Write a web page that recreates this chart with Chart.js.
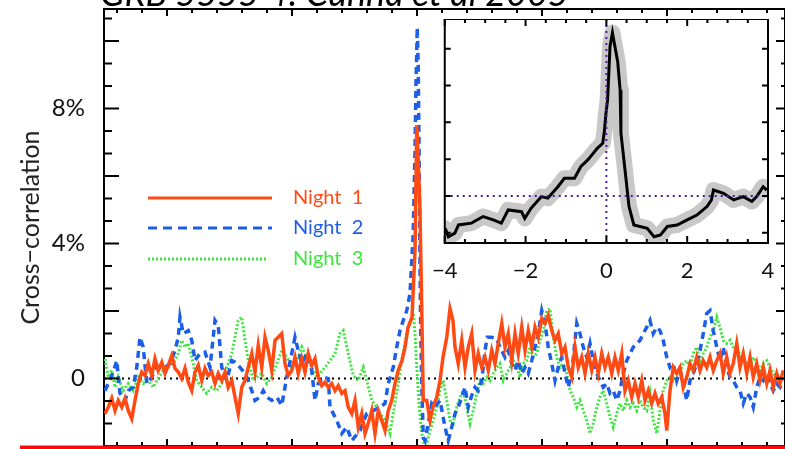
<!DOCTYPE html>
<html>
<head>
<meta charset="utf-8">
<script src="https://cdn.jsdelivr.net/npm/chart.js@4.4.1/dist/chart.umd.min.js"></script>
<style>
  html, body { margin: 0; padding: 0; background: #fff; }
  #wrap { position: relative; width: 785px; height: 449px; overflow: hidden; }
  #mainChart { position: absolute; left: 0; top: 0; }
  #insetChart { position: absolute; left: 425px; top: 19px; }
</style>
</head>
<body>
<div id="wrap">
  <canvas id="mainChart" width="785" height="449"></canvas>
  <canvas id="insetChart" width="360" height="270"></canvas>
</div>
<script>
// lag (main axis units) and cross-correlation (%) per night
const lag1 = [-2.496,-2.470,-2.442,-2.416,-2.390,-2.362,-2.336,-2.310,-2.282,-2.256,-2.230,-2.202,-2.176,-2.150,-2.122,-2.096,-2.070,-2.042,-2.016,-1.990,-1.962,-1.936,-1.910,-1.882,-1.856,-1.830,-1.802,-1.776,-1.750,-1.722,-1.696,-1.670,-1.642,-1.616,-1.590,-1.562,-1.536,-1.510,-1.482,-1.456,-1.430,-1.402,-1.376,-1.350,-1.322,-1.296,-1.270,-1.242,-1.216,-1.190,-1.162,-1.136,-1.110,-1.082,-1.056,-1.030,-1.002,-0.976,-0.950,
  -0.922,-0.896,-0.870,-0.842,-0.816,-0.790,-0.762,-0.736,-0.710,-0.682,-0.656,-0.630,-0.602,-0.576,-0.550,-0.522,-0.496,-0.470,-0.442,-0.416,-0.390,-0.362,-0.336,-0.310,-0.282,-0.256,-0.230,-0.202,-0.176,-0.150,
  -0.120,-0.096,-0.072,-0.040,-0.016,-0.002,0.010,0.024,0.038,0.050,0.078,0.104,0.128,0.158,0.184,0.208,0.238,0.264,0.288,0.304,
  0.330,0.358,0.384,0.410,0.438,0.464,0.490,0.518,0.544,0.570,0.598,0.624,0.650,0.678,0.704,0.730,0.758,0.784,0.810,0.838,0.864,0.890,0.918,0.944,0.970,0.998,1.024,1.050,1.078,1.104,1.130,1.158,1.184,1.210,1.238,1.264,1.290,1.318,1.344,1.370,1.398,1.424,1.450,1.478,1.504,1.530,1.558,1.584,1.610,1.638,1.664,1.690,1.718,1.744,1.770,1.798,1.824,1.850,1.878,1.904,1.930,1.958,1.984,1.998,2.024,2.050,2.078,2.104,2.130,2.158,2.184,2.210,2.238,2.264,2.290,2.318,2.344,2.370,2.398,2.424,2.450,2.478,2.504,2.530,2.558,2.584,2.610,2.638,2.664,2.690,2.718,2.744,2.770,2.798,2.824,2.850,2.878,2.904,2.930];
const night1 = [-1.04,-0.85,-0.59,-0.95,-0.65,-0.85,-0.59,-0.95,-1.19,-0.65,-0.15,0.19,0.09,0.44,0.09,0.59,0.24,0.48,0.15,0.39,0.68,0.30,0.19,0.00,0.30,-0.11,-0.36,0.19,0.39,-0.06,0.30,0.09,0.19,-0.15,0.15,-0.06,0.19,-0.26,-0.06,-0.55,-1.04,-0.26,-0.06,0.33,0.74,0.19,0.98,0.33,1.22,0.83,0.24,1.13,1.22,1.33,0.44,0.09,0.24,0.63,0.15,
  0.59,0.19,0.74,0.39,0.59,0.04,-0.21,-0.11,-0.26,-0.15,-0.36,-0.21,-0.44,-0.36,-0.85,-1.04,-0.65,-1.44,-1.04,-1.63,-1.33,-0.95,-1.63,-0.95,-1.24,-1.54,-0.95,-0.65,-0.15,0.24,
  0.53,0.92,1.51,1.81,3.79,7.50,6.46,4.98,2.01,-0.65,-0.65,-1.24,-0.85,-0.55,-0.06,0.63,1.22,2.07,1.72,0.93,
  0.44,1.13,0.33,0.93,1.33,0.24,0.74,0.33,0.63,0.24,0.83,0.44,1.04,1.63,0.93,1.33,0.53,1.33,0.74,1.52,0.83,1.42,0.93,1.52,1.22,1.78,1.63,1.87,1.42,1.13,1.33,0.74,0.93,0.33,0.04,0.93,0.33,0.63,0.15,0.74,0.24,0.63,0.15,0.74,0.33,0.63,0.15,0.63,0.24,0.74,-0.36,-0.06,-0.55,-0.15,-0.55,-0.06,-0.65,-0.36,-0.74,-0.44,-0.74,-0.55,-1.04,-1.54,-0.36,0.33,0.15,0.33,-0.26,0.04,0.44,0.24,0.63,0.24,0.53,0.33,0.63,0.24,0.53,0.74,0.15,0.63,0.15,0.44,1.04,0.33,0.74,0.15,0.63,0.04,0.44,-0.06,0.33,-0.15,0.24,-0.26,0.15,-0.15,0.24];

const lag2 = [-2.496,-2.470,-2.430,-2.402,-2.376,-2.336,-2.310,-2.270,-2.242,-2.216,-2.190,-2.162,-2.122,-2.082,-2.030,-1.976,-1.936,-1.910,-1.896,-1.870,-1.830,-1.802,-1.776,-1.736,-1.696,-1.656,-1.616,-1.590,-1.562,-1.522,-1.482,-1.456,-1.416,-1.376,-1.350,-1.322,-1.296,-1.256,-1.230,-1.202,-1.162,-1.122,-1.082,-1.042,-1.002,-0.976,-0.950,-0.922,-0.882,-0.842,-0.816,-0.790,-0.750,-0.710,
  -0.696,-0.642,-0.602,-0.562,-0.522,-0.456,-0.402,-0.350,-0.296,-0.256,-0.230,-0.190,-0.162,-0.136,-0.110,-0.082,-0.056,-0.030,-0.016,-0.008,0.002,0.010,0.018,0.024,0.030,0.038,
  0.050,0.064,0.090,0.118,0.144,0.184,0.224,0.250,0.278,0.304,0.330,0.358,0.384,0.410,0.438,0.464,0.490,0.518,0.544,0.562,0.598,0.638,0.664,0.704,0.730,0.758,0.784,0.810,0.838,0.864,0.890,0.918,0.944,0.970,0.998,1.024,1.050,1.078,1.104,1.130,1.158,1.184,1.210,1.238,1.264,1.278,1.304,1.330,1.358,1.384,1.410,1.438,1.464,1.490,1.518,1.544,1.570,1.598,1.624,1.650,1.678,1.704,1.730,1.758,1.784,1.810,1.838,1.864,1.890,1.918,1.944,1.970,1.998,2.024,2.050,2.078,2.104,2.130,2.158,2.184,2.210,2.238,2.264,2.290,2.318,2.344,2.370,2.398,2.424,2.450,2.478,2.504,2.530,2.558,2.584,2.610,2.638,2.664,2.690,2.718,2.744,2.770,2.798,2.824,2.850,2.878,2.904,2.930];
const night2 = [-0.36,-0.15,0.19,0.53,-0.44,-0.65,-0.36,-0.26,0.33,1.22,0.93,-0.15,0.04,0.33,0.29,0.44,0.83,1.22,1.82,1.33,1.42,1.13,0.53,0.74,0.78,0.33,1.72,1.57,0.33,-0.06,0.53,0.48,0.33,0.15,-0.06,-0.36,-0.65,-0.55,-0.36,-0.55,-0.65,-0.55,-0.80,0.04,0.74,1.22,0.83,0.44,0.74,0.24,-0.65,-0.15,0.04,0.00,
  -0.85,-1.24,-1.63,-1.44,-1.84,-1.54,-1.04,-0.95,-0.85,-0.74,-0.15,0.33,0.93,1.42,1.72,2.01,2.52,4.30,6.76,8.74,10.40,9.21,6.25,3.29,1.33,-0.15,
  -1.74,-1.84,-1.33,-0.74,-0.85,-0.65,-1.44,-1.84,-1.44,-1.04,-0.85,-0.55,-0.26,-0.85,-0.50,-0.26,-0.36,-0.06,0.83,1.22,1.22,1.18,0.93,0.63,0.83,0.44,0.24,0.53,0.15,0.33,0.15,0.53,0.93,1.33,2.01,1.63,0.93,0.44,-0.06,0.33,0.63,0.15,-0.26,0.15,1.13,1.63,1.33,0.93,0.63,1.04,0.53,0.15,-0.06,-0.26,-0.15,-0.44,-0.36,-0.65,-0.36,0.15,0.53,0.74,0.93,1.04,1.13,1.33,1.52,1.72,1.33,1.52,1.42,1.13,0.63,0.33,0.44,-0.06,0.24,-0.15,-0.65,-0.06,0.15,0.44,0.83,1.33,1.93,2.01,1.42,0.93,0.53,0.93,0.33,0.04,-0.06,-0.26,-0.36,-0.74,-0.44,-0.55,-0.85,-0.26,0.04,-0.06,0.15,-0.15,-0.36,-0.15,-0.26,-0.06];

const lag3 = [-2.496,-2.470,-2.442,-2.416,-2.390,-2.350,-2.310,-2.270,-2.230,-2.190,-2.150,-2.110,-2.082,-2.030,-1.990,-1.950,-1.910,-1.882,-1.856,-1.830,-1.802,-1.762,-1.722,-1.682,-1.642,-1.602,-1.562,-1.522,-1.482,-1.456,-1.430,-1.402,-1.376,-1.350,-1.310,-1.282,-1.242,-1.202,-1.162,-1.122,-1.082,-1.042,-1.002,-0.962,-0.922,-0.882,-0.842,-0.802,-0.776,-0.736,-0.696,-0.656,-0.616,-0.590,-0.550,-0.510,-0.470,
  -0.430,-0.402,-0.362,-0.322,-0.296,-0.256,-0.216,-0.190,-0.150,-0.122,-0.082,-0.056,-0.030,-0.016,-0.002,0.018,0.038,0.064,0.078,0.104,0.130,0.158,0.184,0.210,0.238,0.264,0.290,0.318,0.344,0.370,0.398,0.424,0.450,0.478,0.504,0.530,0.558,0.584,0.610,0.638,0.664,0.690,0.718,0.744,0.770,0.798,0.824,0.850,0.878,0.904,0.930,0.958,0.984,1.010,1.038,1.064,1.090,1.118,1.144,1.170,1.198,1.224,1.250,1.278,1.304,1.330,1.358,1.384,1.410,1.438,1.464,1.490,1.518,1.544,1.570,1.598,1.624,1.650,1.678,1.704,1.730,1.758,1.784,1.810,1.838,1.864,1.890,1.918,1.944,1.970,1.998,2.024,2.050,2.078,2.104,2.130,2.158,2.184,2.210,2.238,2.264,2.290,2.318,2.344,2.370,2.398,2.424,2.450,2.478,2.504,2.530,2.558,2.584,2.610,2.638,2.664,2.690,2.718,2.744,2.770,2.798,2.824,2.850,2.878,2.904,2.930];
const night3 = [0.58,0.04,0.24,-0.26,0.04,-0.36,-0.15,-0.36,0.04,-0.15,-0.06,-0.26,-0.06,0.24,0.33,0.44,0.74,1.13,0.93,1.04,0.63,-0.06,-0.26,-0.44,-0.26,-0.36,-0.15,0.33,0.74,1.22,1.72,1.82,1.13,0.53,-0.06,0.04,0.15,-0.15,0.04,0.44,0.83,0.63,0.33,0.53,0.93,0.63,0.33,0.04,0.15,0.33,0.53,0.74,1.33,1.42,0.74,0.09,-0.06,
  0.33,-0.06,-0.65,-0.85,-1.04,-1.24,-1.63,-1.04,-0.15,0.53,1.33,1.72,1.93,1.33,0.33,-0.86,-1.63,-2.05,-1.93,-1.54,-1.24,-0.85,-0.36,-0.06,-0.65,-1.24,-1.33,-0.85,-0.55,-0.36,-0.85,-1.33,-0.95,-0.44,-0.06,-0.15,0.04,-0.06,0.15,0.33,0.44,-0.06,0.15,0.33,0.53,0.33,0.04,0.44,0.53,0.93,0.63,0.74,1.13,1.42,2.01,2.07,1.22,0.63,0.33,0.44,0.15,-0.36,-0.55,-0.85,-0.65,-0.95,-1.24,-1.63,-1.33,-0.85,-0.55,-0.36,-0.74,-1.15,-1.44,-1.04,-0.74,-0.95,-0.65,-0.85,-0.74,-0.95,-0.65,-0.85,-0.95,-0.44,-1.24,-1.63,-0.95,-0.36,-0.06,0.04,-0.06,0.15,0.24,0.44,0.53,0.33,0.74,0.93,0.53,0.74,0.93,1.22,1.42,1.82,1.52,1.13,1.04,1.13,0.93,0.83,0.74,0.53,0.44,0.33,0.63,0.44,0.24,0.44,0.53,0.33,0.15,0.04,-0.06,0.04];

// inset: averaged cross-correlation
const insetLag = [-3.99,-3.91,-3.75,-3.66,-3.34,-3.05,-2.80,-2.60,-2.43,-2.10,-2.02,-1.86,-1.61,-1.45,-1.20,-1.04,-0.79,-0.63,-0.46,-0.22,-0.09,-0.05,-0.01,0.03,0.09,0.15,0.19,0.28,0.34,0.36,0.48,0.56,0.68,1.01,1.18,1.34,1.51,1.75,2.00,2.24,2.49,2.60,2.65,2.90,3.15,3.39,3.60,3.72,3.88,3.97];
const insetCorr = [-0.88,-1.11,-1.01,-0.79,-0.74,-0.56,-0.65,-0.74,-0.38,-0.43,-0.61,-0.33,-0.02,-0.06,0.25,0.48,0.48,0.80,0.98,1.30,1.43,1.75,2.25,2.61,4.06,4.44,4.19,3.65,2.88,1.71,0.52,-0.29,-0.79,-0.88,-1.11,-1.06,-0.83,-0.79,-0.65,-0.52,-0.29,-0.11,0.16,0.07,-0.11,-0.02,-0.15,-0.02,0.25,0.16];

const seriesNames = ["Night 1", "Night 2", "Night 3"];
const seriesColors = ["#ff4a14", "#1c5ee6", "#3de63d"];
const yTickLabels = { "0": "0", "4": "4%", "8": "8%" };
const insetXTicks = [-4, -2, 0, 2, 4];

const pts = (xs, ys) => xs.map((x, i) => ({ x: x, y: ys[i] }));
Chart.defaults.font.family = "Lato";
Chart.defaults.color = "#111";

function strokeTicks(ctx, list) {
  ctx.beginPath();
  list.forEach(t => { ctx.moveTo(t[0], t[1]); ctx.lineTo(t[2], t[3]); });
  ctx.stroke();
}

const mainFrame = {
  id: "mainFrame",
  beforeDatasetsDraw(chart) {
    const { ctx, chartArea: a, scales: { y } } = chart;
    const y0 = y.getPixelForValue(0);
    ctx.save();
    ctx.strokeStyle = "#000";
    ctx.lineWidth = 2;
    ctx.setLineDash([2, 4]);
    ctx.beginPath();
    ctx.moveTo(a.left, y0);
    ctx.lineTo(a.right, y0);
    ctx.stroke();
    ctx.restore();
  },
  afterDraw(chart) {
    const { ctx, chartArea: a, scales: { x, y } } = chart;
    ctx.save();
    ctx.strokeStyle = "#000";
    ctx.lineWidth = 2;
    strokeTicks(ctx, [[a.left, a.bottom, a.right, a.bottom], [a.right, a.top, a.right, a.bottom]]);

    // inward ticks, IDL style
    const t = [];
    for (let k = -12; k <= 14; k++) {
      const px = x.getPixelForValue(k * 0.2);
      if (px < a.left || px > a.right) continue;
      const major = k % 5 === 0;
      t.push([px, a.top, px, a.top + (major ? 7 : 4)]);
      t.push([px, a.bottom, px, a.bottom - (major ? 7 : 4)]);
    }
    for (let k = 0; k <= 19; k++) {
      const py = y.getPixelForValue(-2 + k * 2 / 3);
      if (py < a.top) continue;
      const major = k % 3 === 0;
      t.push([a.left, py, a.left + (major ? 15 : 8), py]);
      t.push([a.right, py, a.right - (major ? 9 : 4), py]);
    }
    strokeTicks(ctx, t);

    // legend
    const lx0 = 148, lx1 = 272, rows = [198, 228, 259];
    const dashes = [[], [9, 6], [2, 2]];
    rows.forEach((ry, i) => {
      ctx.strokeStyle = seriesColors[i];
      ctx.lineWidth = 3;
      ctx.setLineDash(dashes[i]);
      ctx.beginPath();
      ctx.moveTo(lx0, ry);
      ctx.lineTo(i === 2 ? 268 : lx1, ry);
      ctx.stroke();
      ctx.setLineDash([]);
      ctx.fillStyle = seriesColors[i];
      ctx.font = "20px Lato";
      ctx.textBaseline = "middle";
      ctx.fillText(seriesNames[i].replace(" ", "  "), 293, ry);
    });

    // cut-off title at the very top
    ctx.fillStyle = "#000";
    ctx.font = "italic 36px Lato";
    ctx.textBaseline = "alphabetic";
    ctx.fillText("GRB 5555 4: Cunha et al 2005", 100, 6);

    // red marker line along the bottom edge
    ctx.fillStyle = "#ff0a0a";
    ctx.fillRect(20, 445.5, 765, 4);
    ctx.restore();
  }
};

new Chart(document.getElementById("mainChart"), {
  type: "line",
  data: {
    datasets: [
      { label: seriesNames[0], data: pts(lag1, night1), borderColor: seriesColors[0], borderWidth: 3.5, pointRadius: 0 },
      { label: seriesNames[1], data: pts(lag2, night2), borderColor: seriesColors[1], borderWidth: 3.5, borderDash: [7, 5], pointRadius: 0 },
      { label: seriesNames[2], data: pts(lag3, night3), borderColor: seriesColors[2], borderWidth: 3, borderDash: [2, 2], pointRadius: 0 }
    ]
  },
  options: {
    responsive: false,
    animation: false,
    layout: { padding: { left: 0, right: 0, top: 0, bottom: 3 } },
    plugins: { legend: { display: false }, tooltip: { enabled: false } },
    scales: {
      x: {
        type: "linear", position: "top", min: -2.504, max: 2.944,
        ticks: { display: false }, grid: { display: false },
        border: { color: "#000", width: 2 },
        afterFit: s => { s.height = 9; s.paddingLeft = 0; s.paddingRight = 0; }
      },
      y: {
        min: -2, max: 10.948,
        afterFit: s => { s.width = 104; s.paddingTop = 0; s.paddingBottom = 0; },
        ticks: {
          stepSize: 2, padding: 11, color: "#111", font: { size: 24 },
          callback: v => yTickLabels[String(Math.round(v * 1000) / 1000)] || ""
        },
        grid: { display: false },
        border: { color: "#000", width: 2 },
        title: { display: true, text: "Cross−correlation", color: "#222", font: { size: 25 }, padding: { top: 16, bottom: 0 } }
      }
    }
  },
  plugins: [mainFrame]
});

const insetFrame = {
  id: "insetFrame",
  beforeDraw(chart) {
    const { ctx, chartArea: a } = chart;
    ctx.save();
    ctx.fillStyle = "#fff";
    ctx.fillRect(a.left, a.top, a.right - a.left, a.bottom - a.top);
    ctx.restore();
  },
  afterDatasetsDraw(chart) {
    const { ctx, chartArea: a, scales: { x, y } } = chart;
    const px = x.getPixelForValue(0), py = y.getPixelForValue(0);
    ctx.save();
    ctx.strokeStyle = "#4a1f9c";
    ctx.lineWidth = 2;
    ctx.setLineDash([2, 4]);
    strokeTicks(ctx, [[px, a.top, px, a.bottom], [a.left, py, a.right, py]]);
    ctx.restore();
  },
  afterDraw(chart) {
    const { ctx, chartArea: a, scales: { x, y } } = chart;
    ctx.save();
    ctx.strokeStyle = "#000";
    ctx.lineWidth = 2;
    ctx.strokeRect(a.left, a.top, a.right - a.left, a.bottom - a.top);
    const t = [];
    for (let k = -8; k <= 8; k++) {
      const px = x.getPixelForValue(k * 0.5);
      const major = k % 4 === 0;
      t.push([px, a.bottom, px, a.bottom - (major ? 7 : 4)]);
      t.push([px, a.top, px, a.top + (major ? 7 : 4)]);
    }
    for (let v = -1; v <= 4; v++) {
      const py = y.getPixelForValue(v);
      t.push([a.left, py, a.left + 6, py]);
      t.push([a.right, py, a.right - 6, py]);
    }
    strokeTicks(ctx, t);
    ctx.restore();
  }
};

new Chart(document.getElementById("insetChart"), {
  type: "line",
  data: {
    datasets: [
      { data: pts(insetLag, insetCorr), borderColor: "#000", borderWidth: 3, pointRadius: 0 },
      { data: pts(insetLag, insetCorr), borderColor: "#c8c8c8", borderWidth: 16, borderJoinStyle: "round", borderCapStyle: "round", pointRadius: 0 }
    ]
  },
  options: {
    responsive: false,
    animation: false,
    layout: { padding: { left: 18, right: 17, top: 0, bottom: 0 } },
    plugins: { legend: { display: false }, tooltip: { enabled: false } },
    scales: {
      x: {
        type: "linear", min: -4, max: 4,
        afterBuildTicks: s => { s.ticks = insetXTicks.map(v => ({ value: v })); },
        afterFit: s => { s.height = 46; },
        ticks: { padding: 7, color: "#111", font: { size: 22 }, maxRotation: 0, callback: v => (v < 0 ? "−" + Math.abs(v) : String(v)) },
        grid: { display: false },
        border: { color: "#000", width: 2 }
      },
      y: { display: false, min: -1.28, max: 4.81 }
    }
  },
  plugins: [insetFrame]
});
</script>
</body>
</html>
